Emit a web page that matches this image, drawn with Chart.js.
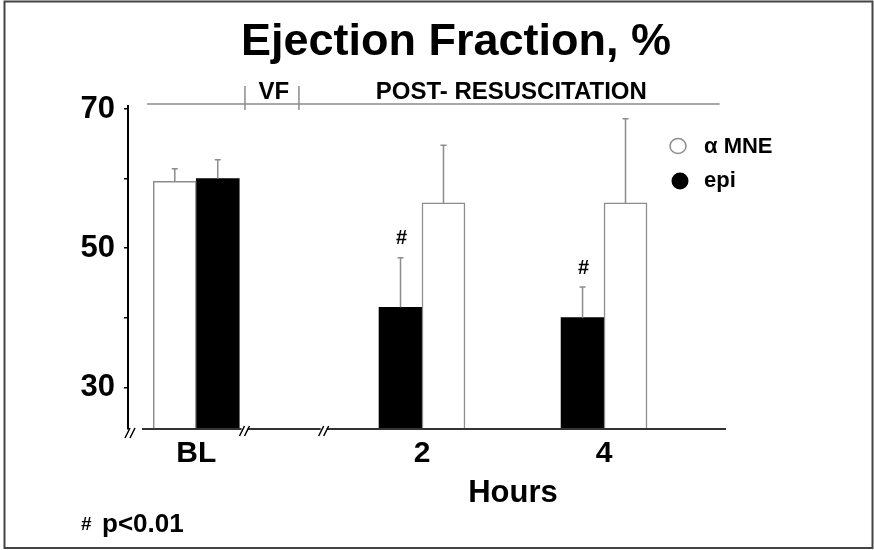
<!DOCTYPE html>
<html>
<head>
<meta charset="utf-8">
<title>Ejection Fraction, %</title>
<script src="https://cdn.jsdelivr.net/npm/chart.js@4.4.1/dist/chart.umd.min.js"></script>
<style>
    html, body { margin: 0; padding: 0; background: #fff; }
    #wrap { width: 874px; height: 550px; }
</style>
</head>
<body>
<div id="wrap"><canvas id="efChart" width="874" height="550"></canvas></div>
<script>
// Values
const groups = ['BL', '2', '4'];
const groupPos = [-0.48, 2, 4];      // place on the hours axis, BL sits before the break
const mneMean = [59.6, 56.5, 56.5];
const mneSD = [1.8, 8.3, 12.1];
const epiMean = [60.0, 41.5, 40.0];
const epiSD = [2.7, 7.1, 4.4];
const epiSig = [false, true, true];  // # p<0.01
const mneSide = [-1, 1, 1];          // αMNE bar left (-1) or right (1) of the tick
const yTicks = [30, 40, 50, 60, 70];
const yLabels = [30, 50, 70];
const axisBreaks = [0.05, 0.92];
const phases = [
    { label: '', from: -1.02, to: 0.055 },
    { label: 'VF', from: 0.055, to: 0.648 },
    { label: 'POST- RESUSCITATION', from: 0.648, to: 5.27 }
];

const FONT = "'Liberation Sans', Arial, sans-serif";
const HALF_BAR = 0.236;   // half a bar width, in hours
const GRAY = '#8c8c8c';

const mneData = groupPos.map((p, i) => ({ x: p + mneSide[i] * HALF_BAR, y: mneMean[i] }));
const epiData = groupPos.map((p, i) => ({ x: p - mneSide[i] * HALF_BAR, y: epiMean[i] }));

function breakMark(ctx, x, y) {
    ctx.beginPath();
    [-2.5, 2.5].forEach(dx => {
        ctx.moveTo(x + dx - 2.5, y + 5);
        ctx.lineTo(x + dx + 2.5, y - 5);
    });
    ctx.stroke();
}

// Title, phase bracket, axis line, error bars, legend and notes
const decorations = {
    id: 'decorations',
    afterDatasetsDraw(chart) {
        const ctx = chart.ctx;
        const xs = chart.scales.x;
        const ys = chart.scales.y;
        const area = chart.chartArea;

        // error bars (upper side only)
        ctx.save();
        ctx.strokeStyle = GRAY;
        ctx.lineWidth = 1.5;
        [[mneMean, mneSD], [epiMean, epiSD]].forEach(([mean, sd], d) => {
            chart.getDatasetMeta(d).data.forEach((bar, i) => {
                const top = ys.getPixelForValue(mean[i] + sd[i]);
                ctx.beginPath();
                ctx.moveTo(bar.x, bar.y);
                ctx.lineTo(bar.x, top);
                ctx.moveTo(bar.x - 3, top);
                ctx.lineTo(bar.x + 3, top);
                ctx.stroke();
            });
        });

        // significance marks
        ctx.fillStyle = '#000';
        ctx.font = 'bold 20px ' + FONT;
        ctx.textAlign = 'center';
        ctx.textBaseline = 'middle';
        chart.getDatasetMeta(1).data.forEach((bar, i) => {
            if (!epiSig[i]) return;
            const top = ys.getPixelForValue(epiMean[i] + epiSD[i]);
            ctx.fillText('#', bar.x + 1, top - 19);
        });

        // x axis line with breaks
        ctx.strokeStyle = '#333';
        ctx.lineWidth = 2;
        ctx.beginPath();
        ctx.moveTo(area.left + 14, area.bottom);
        ctx.lineTo(area.right, area.bottom);
        ctx.stroke();
        ctx.lineWidth = 1.5;
        ctx.strokeStyle = '#000';
        ctx.fillStyle = '#fff';
        axisBreaks.forEach(v => {
            const x = xs.getPixelForValue(v);
            ctx.fillRect(x - 3, area.bottom - 2, 6, 4);
            breakMark(ctx, x, area.bottom + 2);
        });
        breakMark(ctx, area.left + 2, area.bottom + 4);

        // phase bracket on top
        const by = 104;
        ctx.strokeStyle = GRAY;
        ctx.lineWidth = 1.5;
        ctx.beginPath();
        ctx.moveTo(xs.getPixelForValue(phases[0].from), by);
        ctx.lineTo(xs.getPixelForValue(phases[phases.length - 1].to), by);
        phases.slice(1).forEach(p => {
            const x = xs.getPixelForValue(p.from);
            ctx.moveTo(x, by - 18);
            ctx.lineTo(x, by + 6);
        });
        ctx.stroke();
        ctx.fillStyle = '#000';
        ctx.font = 'bold 24px ' + FONT;
        ctx.textBaseline = 'alphabetic';
        phases.forEach(p => {
            if (!p.label) return;
            const x = (xs.getPixelForValue(p.from) + xs.getPixelForValue(p.to)) / 2;
            ctx.fillText(p.label, x + 2, by - 5);
        });

        // title
        ctx.font = 'bold 45px ' + FONT;
        ctx.fillText('Ejection Fraction, %', 456, 55);

        // axis title
        ctx.font = 'bold 31px ' + FONT;
        ctx.fillText('Hours', xs.getPixelForValue(3), 502);

        // footnote
        ctx.textAlign = 'left';
        ctx.font = 'bold 19px ' + FONT;
        ctx.fillText('#', 81, 530);
        ctx.font = 'bold 26px ' + FONT;
        ctx.fillText('p<0.01', 102, 532);

        // legend
        const lx = area.right - 48;
        ctx.lineWidth = 1.5;
        ctx.strokeStyle = GRAY;
        ctx.beginPath();
        ctx.ellipse(lx, 146, 8, 7.5, 0, 0, Math.PI * 2);
        ctx.stroke();
        ctx.fillStyle = '#000';
        ctx.beginPath();
        ctx.ellipse(lx + 2, 181, 8.5, 8.5, 0, 0, Math.PI * 2);
        ctx.fill();
        ctx.font = 'bold 22px ' + FONT;
        ctx.textBaseline = 'middle';
        ctx.fillText('\u03B1 MNE', lx + 26, 147);
        ctx.fillText('epi', lx + 26, 181);

        // frame
        ctx.strokeStyle = '#444';
        ctx.lineWidth = 2;
        ctx.strokeRect(4.5, 1.5, 868, 546.5);
        ctx.restore();
    }
};

const ctx = document.getElementById('efChart').getContext('2d');
new Chart(ctx, {
    type: 'bar',
    data: {
        datasets: [{
            label: '\u03B1 MNE',
            data: mneData,
            backgroundColor: '#fff',
            borderColor: GRAY,
            borderWidth: 1.5,
            barThickness: 43,
            grouped: false
        }, {
            label: 'epi',
            data: epiData,
            backgroundColor: '#000',
            borderWidth: 0,
            barThickness: 43,
            grouped: false
        }]
    },
    options: {
        responsive: false,
        animation: false,
        layout: { padding: { left: 0, right: 148, top: 105.5, bottom: 0 } },
        plugins: {
            legend: { display: false },
            title: { display: false },
            tooltip: { enabled: false }
        },
        scales: {
            x: {
                type: 'linear',
                min: -1.23,
                max: 5.34,
                offset: false,
                grid: { display: false, drawTicks: false },
                border: { display: false },
                afterBuildTicks: scale => { scale.ticks = groupPos.map(v => ({ value: v })); },
                afterFit: scale => { scale.height = 121; },
                ticks: {
                    autoSkip: false,
                    maxRotation: 0,
                    padding: 7,
                    color: '#000',
                    font: { family: FONT, size: 30, weight: 'bold' },
                    callback: (v, i) => groups[i]
                }
            },
            y: {
                min: 24,
                max: 70.5,
                afterBuildTicks: scale => { scale.ticks = yTicks.map(v => ({ value: v })); },
                afterFit: scale => { scale.width = 128; },
                grid: { drawOnChartArea: false, tickLength: 4, color: '#000', lineWidth: 1.5 },
                border: { color: '#000', width: 2 },
                ticks: {
                    autoSkip: false,
                    padding: 9,
                    color: '#000',
                    font: { family: FONT, size: 31, weight: 'bold' },
                    callback: v => yLabels.includes(v) ? String(v) : ''
                }
            }
        }
    },
    plugins: [decorations]
});
</script>
</body>
</html>
